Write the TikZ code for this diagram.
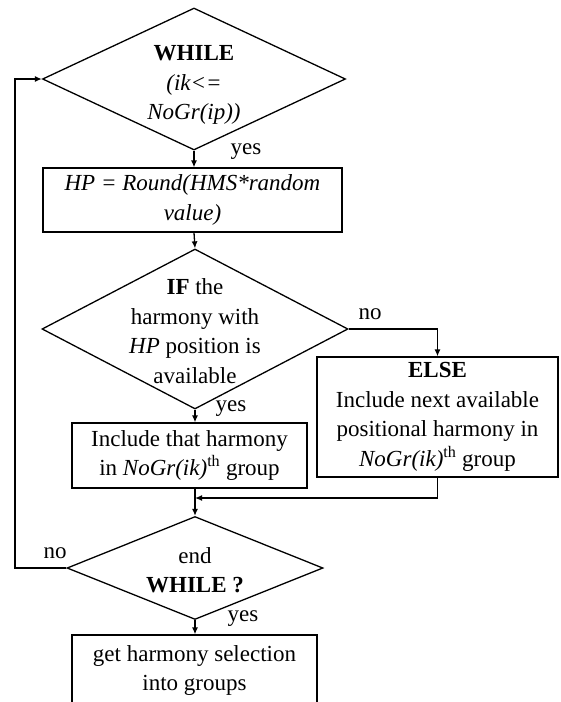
\documentclass[tikz,border=0pt]{standalone}
\usepackage{fontspec}
\setmainfont{Liberation Serif}
\usetikzlibrary{shapes.geometric,arrows.meta}
\begin{document}
\begin{tikzpicture}[x=1pt,y=-1pt,
  line width=1.3pt,
  fnt/.style={font=\fontsize{23}{29.5}\selectfont},
  dia/.style={draw, shape=diamond, inner sep=0pt},
  box/.style={draw, rectangle, inner sep=0pt, align=center, fnt},
  txt/.style={align=center, inner sep=0pt, fnt},
  lbl/.style={inner sep=0pt, fnt},
  arr/.style={-{Latex[length=7pt,width=6pt]}}]
\useasboundingbox (0,0) rectangle (561,702);

% decision and process blocks
\node[dia, minimum width=303pt, minimum height=142pt] (whl) at (194,79) {};
\node[txt] (whlt) at (194,85) {\textbf{WHILE}\\\textit{(ik<=}\\\textit{NoGr(ip))}};
\node[box, minimum width=299pt, minimum height=64pt] (hp) at (192.5,200)
  {\textit{HP = Round(HMS*random}\\\textit{value)}};
\node[dia, minimum width=306pt, minimum height=160pt] (ifd) at (195,329) {};
\node[txt] (ifdt) at (195,331) {\textbf{IF} the\\harmony with\\\textit{HP} position is\\available};
\node[box, minimum width=235pt, minimum height=65pt] (inc) at (189.5,455.5)
  {Include that harmony\\in \textit{NoGr(ik)}\textsuperscript{th} group};
\node[box, minimum width=241pt, minimum height=120pt] (els) at (437.5,417)
  {\textbf{ELSE}\\Include next available\\positional harmony in\\\textit{NoGr(ik)}\textsuperscript{th} group};
\node[dia, minimum width=256pt, minimum height=103pt] (endw) at (195,568) {};
\node[txt] (endt) at (195,570) {end\\\textbf{WHILE ?}};
\node[box, minimum width=245pt, minimum height=71pt] (fin) at (194.5,670.5)
  {get harmony selection\\into groups};

% branch labels
\node[lbl] (y1) at (246,152) {yes};
\node[lbl] (n1) at (370,314) {no};
\node[lbl] (y2) at (231,409) {yes};
\node[lbl] (n2) at (55,553) {no};
\node[lbl] (y3) at (243,619) {yes};

% helper points
\coordinate (loopx) at (15,0);
\coordinate (mrg) at (195,498);

% connectors
\draw[arr] (whl.south) -- (whl.south |- hp.north);
\draw[arr] (hp.south -| whl.south) -- (ifd.north);
\draw[arr] (ifd.south) -- (ifd.south |- inc.north);
\draw[arr] (ifd.east) -| (els.north);
\draw[arr] (ifd.south |- inc.south) -- (endw.north);
\draw[arr] (els.south) |- (mrg);
\draw[arr] (endw.south) -- (endw.south |- fin.north);
\draw[arr] (endw.west) -- (loopx |- endw.west) -- (loopx |- whl.west) -- (whl.west);
\end{tikzpicture}
\end{document}
